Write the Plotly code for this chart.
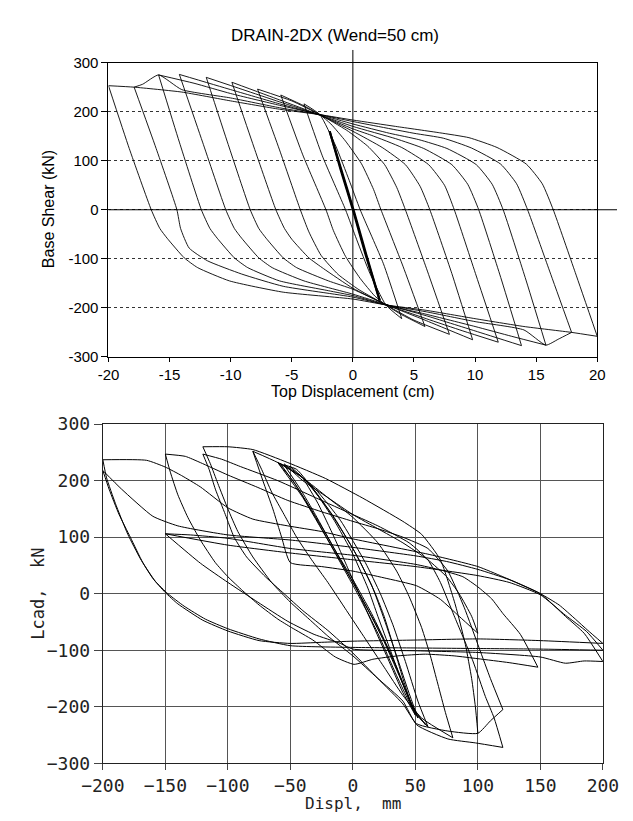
import plotly.graph_objects as go

# ---------------- TOP CHART DATA (Top Displacement cm, Base Shear kN) ----------------
up2 = [(2.2, -185), (1, -88), (0, 0), (-1, 82), (-1.9, 160)]
lo2 = [(-1.9, 160), (-0.9, 78), (0.1, -4), (1.1, -92), (2.2, -185)]
up4 = [(4, -222), (2.5, -110), (0.6, 0), (-0.3, 60), (-1.4, 130), (-2.7, 194), (-4, 216)]
lo4 = [(-4, 216), (-2.5, 110), (-0.6, 0), (0.3, -60), (1.4, -130), (2.7, -194), (4, -222)]
up6 = [(5.9, -238), (4.1, -115), (2.3, 0), (1.7, 41), (0.7, 94), (-0.6, 140), (-1.8, 175), (-2.7, 194), (-4, 212), (-5.9, 234)]
lo6 = [(-5.9, 234), (-4.1, 112), (-2.2, 0), (-1.6, -42), (-0.6, -95), (0.6, -140), (1.8, -176), (2.7, -194), (4, -214), (5.9, -238)]
up8 = [(7.9, -254), (6.1, -125), (4.3, 0), (3.6, 45), (2.6, 92), (1.2, 130), (-0.5, 162), (-2.7, 194), (-5, 222), (-7.8, 246)]
lo8 = [(-7.8, 246), (-6, 122), (-4.3, 0), (-3.6, -45), (-2.6, -93), (-1.2, -132), (0.5, -163), (2.7, -194), (5, -225), (7.9, -254)]
up10 = [(9.8, -265), (8.1, -130), (6.3, 0), (5.5, 48), (4.3, 92), (2.4, 127), (0, 160), (-2.7, 193), (-6, 224), (-9.9, 260)]
lo10 = [(-9.9, 260), (-8.1, 128), (-6.3, 0), (-5.6, -38), (-5.0, -60), (-3.6, -98), (-2.4, -120), (0, -160), (2.7, -193), (6, -226), (9.8, -265)]
up12 = [(11.9, -270), (10.1, -135), (8.3, 0), (7.5, 50), (6.2, 92), (4, 127), (1.5, 152), (0, 165), (-2.7, 193), (-6, 220), (-9, 245), (-12, 270)]
lo12 = [(-12, 270), (-10.2, 133), (-8.4, 0), (-7.7, -38), (-7.1, -58), (-5.7, -98), (-4.6, -118), (-2, -145), (0, -162), (2.7, -193), (6, -222), (9, -247), (11.9, -270)]
up14 = [(13.8, -277), (12.1, -138), (10.3, 0), (9.4, 52), (8.1, 92), (5.8, 125), (3.5, 145), (0, 170), (-2.7, 193), (-6, 216), (-10, 245), (-14.2, 276)]
lo14 = [(-14.2, 276), (-12.3, 138), (-10.4, 0), (-9.7, -38), (-9.1, -58), (-7.7, -98), (-6.6, -118), (-4, -145), (0, -172), (2.7, -193), (6, -216), (10, -247), (13.8, -277)]
up16 = [(15.8, -276), (14.1, -138), (12.3, 0), (11.4, 52), (10.1, 92), (7.7, 125), (5.4, 143), (3, 156), (0, 175), (-2.7, 194), (-6, 213), (-10, 237), (-13, 258), (-15.9, 275)]
lo16 = [(-15.9, 275), (-14.2, 138), (-12.4, 0), (-11.7, -38), (-11.1, -58), (-9.7, -98), (-8.6, -118), (-6, -145), (-2, -165), (0, -175), (2.7, -194), (6, -213), (10, -238), (13, -258), (15.8, -276)]
up18 = [(17.9, -250), (16.1, -125), (14.3, 0), (13.4, 53), (12.1, 93), (9.7, 126), (7.4, 146), (5, 156), (0, 180), (-2.7, 194), (-6, 208), (-10, 228), (-14, 245), (-15.9, 275), (-17.2, 256), (-17.9, 250)]
lo18 = [(-17.9, 250), (-16.1, 125), (-14.4, 0), (-14.1, -38), (-13.4, -78), (-11.9, -104), (-9.1, -131), (-5.7, -156), (0, -178), (2.7, -194), (6, -208), (10, -228), (14, -245), (15.8, -276), (16.8, -264), (17.9, -250)]
up20 = [(20, -258), (18.2, -128), (16.4, 0), (15.5, 53), (14.2, 93), (11.8, 127), (9.5, 147), (7.1, 157), (3.5, 170), (0, 183), (-2.7, 194), (-6, 205), (-10, 222), (-14, 240), (-17.9, 250), (-20, 253)]
lo20 = [(-20, 253), (-18.3, 125), (-16.5, 0), (-15.8, -38), (-15.2, -58), (-13.8, -98), (-12.7, -118), (-10.1, -145), (-5.7, -168), (0, -182), (2.7, -194), (6, -205), (10, -222), (14, -238), (17.9, -250), (20, -258)]

top_thin = [up4, lo4, up6, lo6, up8, lo8, up10, lo10, up12, lo12, up14, lo14,
            up16, lo16, up18, lo18, up20, lo20]
top_thick = [up2, lo2]

top_xticks = [-20, -15, -10, -5, 0, 5, 10, 15, 20]
top_yticks = [-300, -200, -100, 0, 100, 200, 300]

# ---------------- BOTTOM CHART DATA (Displ mm, Load kN) ----------------
b200a_lo = [(-200, 237), (-197, 205), (-190, 160), (-180, 105), (-170, 62), (-160, 27), (-150, 2), (-140, -18), (-120, -47), (-100, -66), (-75, -83), (-50, -88), (-25, -86), (0, -84), (50, -82), (100, -80), (150, -83), (200, -88)]
b200b_lo = [(-200, 218), (-195, 185), (-187, 140), (-178, 100), (-168, 55), (-158, 22), (-148, 0), (-135, -22), (-118, -45), (-100, -62), (-75, -80), (-50, -92), (0, -95), (50, -96), (100, -97), (150, -98), (200, -100)]
b150b_lo = [(-150, 106), (-122, 54), (-100, 20), (-76, -15), (-52, -49), (-31, -72), (-10, -88), (0, -98), (50, -101), (100, -104), (150, -112), (170, -123), (185, -119), (200, -120)]
b150a_lo = [(-150, 247), (-146, 215), (-140, 175), (-132, 135), (-122, 95), (-110, 55), (-100, 30), (-88, 5), (-75, -20), (-60, -45), (-49, -60), (-32, -82), (-14, -112), (1, -125), (16, -116), (36, -110), (58, -107), (81, -110), (100, -115), (125, -122), (148, -130)]
b200_up_a = [(200, -88), (188, -65), (178, -45), (165, -20), (150, 0), (125, 25), (100, 43), (75, 57), (50, 67), (0, 82), (-50, 95), (-100, 104), (-140, 120), (-160, 137), (-185, 185), (-200, 218)]
b200_up_b = [(200, -100), (187, -67), (170, -38), (150, -2), (125, 20), (100, 32), (50, 48), (0, 60), (-50, 72), (-100, 86), (-150, 106)]
b200_up_c = [(200, -120), (185, -70), (170, -40), (150, 0), (120, 30), (100, 48), (60, 70), (0, 97), (-25, 110), (-52, 120), (-80, 132), (-100, 152), (-122, 189), (-137, 209), (-150, 224), (-165, 236), (-200, 237)]
b150_up = [(148, -130), (134, -72), (120, -35), (111, -9), (100, 12), (88, 30), (70, 42), (50, 52), (0, 68), (-50, 80), (-100, 98), (-130, 104), (-150, 106)]
b120a_lo = [(-120, 260), (-114, 230), (-108, 195), (-100, 150), (-92, 110), (-80, 65), (-65, 20), (-50, -15), (-35, -45), (-20, -75), (0, -110), (20, -150), (40, -190), (51, -232), (76, -257), (98, -264), (120, -272)]
b120b_lo = [(-120, 247), (-115, 220), (-110, 185), (-102, 140), (-95, 100), (-85, 65), (-70, 30), (-55, 0), (-40, -30), (-20, -65), (0, -105), (20, -150), (40, -195), (51, -230), (76, -243), (100, -247), (110, -225), (120, -205)]
b120b_up = [(120, -205), (110, -150), (101, -96), (89, -24), (76, 40), (60, 80), (40, 100), (20, 115), (0, 128), (-25, 145), (-52, 165), (-76, 188), (-100, 210), (-122, 232), (-134, 243), (-150, 247)]
b120a_up = [(120, -272), (113, -220), (106, -182), (96, -119), (81, -39), (70, 20), (60, 60), (45, 90), (20, 120), (0, 140), (-30, 170), (-60, 200), (-90, 225), (-105, 238), (-120, 247)]
b100_up = [(100, -247), (98, -200), (95, -150), (90, -90), (82, -20), (70, 60), (55, 105), (40, 128), (8, 169), (-22, 204), (-52, 232), (-80, 255), (-100, 260), (-120, 260)]
b100_lo = [(-80, 252), (-72, 200), (-64, 150), (-57, 100), (-50, 55), (-25, 48), (0, 40), (25, 28), (51, 14), (70, -10), (85, -40), (100, -70)]
b100_up2 = [(100, -70), (95, -40), (85, 0), (75, 30), (60, 60), (40, 90), (20, 115), (0, 140), (-20, 170), (-40, 200), (-55, 230)]
b80_lo = [(-80, 252), (-73, 220), (-65, 180), (-55, 140), (-45, 100), (-33, 60), (-20, 20), (-5, -30), (10, -80), (25, -130), (40, -180), (55, -220), (80, -255)]
b80_up = [(80, -255), (74, -210), (68, -160), (62, -110), (55, -60), (45, -5), (35, 40), (20, 90), (0, 135), (-20, 170), (-40, 205), (-60, 232), (-80, 252)]
f1 = [(-40, 205), (-28, 160), (-15, 100), (-5, 50), (5, 0), (15, -50), (28, -115), (40, -175), (50, -215)]
f2 = [(50, -215), (40, -160), (30, -100), (20, -40), (12, 10), (0, 70), (-15, 130), (-30, 180), (-45, 220), (-55, 228)]
f3 = [(-55, 228), (-42, 185), (-30, 140), (-15, 80), (0, 25), (15, -35), (30, -105), (42, -170), (52, -220)]
f4 = [(52, -220), (44, -170), (35, -110), (25, -45), (15, 15), (0, 80), (-20, 150), (-40, 205), (-58, 230)]
f5 = [(-58, 230), (-45, 190), (-30, 135), (-10, 55), (5, -5), (20, -70), (35, -145), (50, -212), (60, -235)]
f6 = [(60, -235), (52, -190), (42, -120), (32, -55), (22, 0), (10, 55), (-10, 130), (-30, 185), (-50, 222), (-60, 232)]
f7 = [(-60, 232), (-48, 200), (-35, 155), (-20, 100), (-5, 40), (10, -20), (25, -85), (40, -160), (50, -210), (60, -235)]
f8 = [(48, -205), (40, -150), (32, -90), (25, -40), (18, 0), (5, 60), (-15, 135), (-35, 195), (-50, 225)]
f9 = [(-60, 232), (-40, 170), (-20, 95), (0, 20), (20, -60), (35, -130), (48, -200), (58, -232)]

bottom_curves = [b200a_lo, b200b_lo, b150b_lo, b150a_lo, b200_up_a, b200_up_b, b200_up_c,
                 b150_up, b120a_lo, b120b_lo, b120b_up, b120a_up, b100_up, b100_lo, b100_up2,
                 b80_lo, b80_up, f1, f2, f3, f4, f5, f6, f7, f8, f9]

bot_xticks = [-200, -150, -100, -50, 0, 50, 100, 150, 200]
bot_yticks = [-300, -200, -100, 0, 100, 200, 300]

# ---------------- FIGURE ----------------
W, H = 633, 821
top_xdom = [92 / W, 612 / W]
top_ydom = [1 - 355 / H, 1 - 53 / H]
bot_xdom = [86 / W, 618 / W]
bot_ydom = [1 - 772 / H, 1 - 424 / H]

fig = go.Figure()


def add_curve(pts, xa, ya, width):
    fig.add_trace(go.Scatter(
        x=[p[0] for p in pts], y=[p[1] for p in pts], mode="lines",
        line=dict(color="black", width=width, shape="spline", smoothing=0.5),
        xaxis=xa, yaxis=ya, hoverinfo="skip", showlegend=False))


for c in top_thin:
    add_curve(c, "x", "y", 0.9)
for c in top_thick:
    add_curve(c, "x", "y", 2.2)
for c in bottom_curves:
    add_curve(c, "x2", "y2", 1.0)

sans = "Liberation Sans, Arial, sans-serif"
mono = "DejaVu Sans Mono, monospace"

fig.update_layout(
    width=W, height=H, autosize=False,
    margin=dict(l=0, r=0, t=0, b=0),
    paper_bgcolor="white", plot_bgcolor="white",
    showlegend=False,
    xaxis=dict(domain=top_xdom, range=[-20, 20], tickvals=top_xticks,
               ticktext=[str(v) for v in top_xticks],
               ticks="outside", ticklen=4, tickcolor="black",
               showline=True, linecolor="black", linewidth=1, mirror=True,
               showgrid=False, zeroline=False,
               tickfont=dict(family=sans, size=15, color="black"),
               anchor="y", fixedrange=True),
    yaxis=dict(domain=top_ydom, range=[-300, 300], tickvals=top_yticks,
               ticktext=[str(v) for v in top_yticks],
               ticks="outside", ticklen=6, tickcolor="black",
               showline=True, linecolor="black", linewidth=1, mirror=True,
               showgrid=True, gridcolor="#333333", gridwidth=1, griddash="dot",
               zeroline=False,
               tickfont=dict(family=sans, size=15, color="black"),
               anchor="x", fixedrange=True),
    xaxis2=dict(domain=bot_xdom, range=[-200, 200], tickvals=bot_xticks,
                ticks="outside", ticklen=6, tickcolor="#444",
                showline=True, linecolor="#222", linewidth=1.2, mirror=True,
                showgrid=True, gridcolor="#555555", gridwidth=1, zeroline=False,
                tickfont=dict(family=mono, size=18, color="#222"),
                anchor="y2", fixedrange=True),
    yaxis2=dict(domain=bot_ydom, range=[-300, 300], tickvals=bot_yticks,
                ticks="outside", ticklen=8, tickcolor="#444",
                showline=True, linecolor="#222", linewidth=1.2, mirror=True,
                showgrid=True, gridcolor="#555555", gridwidth=1, zeroline=False,
                tickfont=dict(family=mono, size=18, color="#222"),
                anchor="x2", fixedrange=True),
)


def frac(dom, rng, v):
    return dom[0] + (v - rng[0]) / (rng[1] - rng[0]) * (dom[1] - dom[0])


# top chart: zero axes (y=0 extends to right edge, x=0 extends above the frame)
y0p = frac(top_ydom, [-300, 300], 0)
x0p = frac(top_xdom, [-20, 20], 0)
fig.add_shape(type="line", xref="paper", yref="paper", x0=top_xdom[0], x1=1.0,
              y0=y0p, y1=y0p, line=dict(color="black", width=1.1))
fig.add_shape(type="line", xref="paper", yref="paper", x0=x0p, x1=x0p,
              y0=top_ydom[0], y1=1 - 40 / H, line=dict(color="black", width=1))

fig.add_annotation(text="DRAIN-2DX (Wend=50 cm)", xref="paper", yref="paper",
                   x=333 / W, y=1 - 25 / H, showarrow=False, xanchor="center", yanchor="middle",
                   font=dict(family=sans, size=17, color="black"))
fig.add_annotation(text="Top Displacement (cm)", xref="paper", yref="paper",
                   x=352 / W, y=1 - 391 / H, showarrow=False, xanchor="center", yanchor="middle",
                   font=dict(family=sans, size=16, color="black"))
fig.add_annotation(text="Base Shear (kN)", xref="paper", yref="paper",
                   x=28 / W, y=1 - 203 / H, showarrow=False, textangle=-90,
                   xanchor="center", yanchor="middle",
                   font=dict(family=sans, size=16, color="black"))
fig.add_annotation(text="Displ,  mm", xref="paper", yref="paper",
                   x=352 / W, y=1 - 813 / H, showarrow=False, xanchor="center", yanchor="middle",
                   font=dict(family=mono, size=16, color="#222"))
fig.add_annotation(text="Lcad,  kN", xref="paper", yref="paper",
                   x=17 / W, y=1 - 598 / H, showarrow=False, textangle=-90,
                   xanchor="center", yanchor="middle",
                   font=dict(family=mono, size=17, color="#222"))

fig.write_html("out.html", config={"displayModeBar": False},
               post_script="document.body.style.margin='0';")
